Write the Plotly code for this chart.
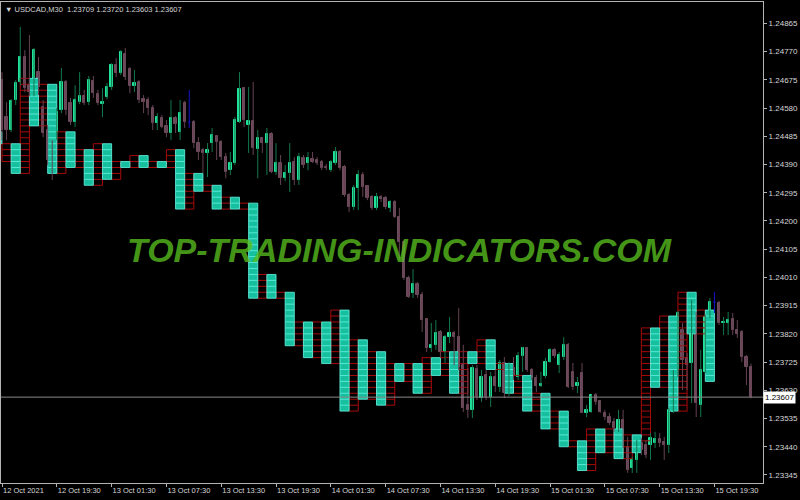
import plotly.graph_objects as go

# ---------------- data ----------------
symbol = "USDCAD,M30"

time_tick_bars = [0, 12, 24, 36, 48, 60, 72, 84, 96, 108, 120, 132, 144, 156]
time_tick_labels = ["12 Oct 2021", "12 Oct 19:30", "13 Oct 01:30", "13 Oct 07:30",
                    "13 Oct 13:30", "13 Oct 19:30", "14 Oct 01:30", "14 Oct 07:30",
                    "14 Oct 13:30", "14 Oct 19:30", "15 Oct 01:30", "15 Oct 07:30",
                    "15 Oct 13:30", "15 Oct 19:30"]

price_ticks = [1.24865, 1.24770, 1.24675, 1.24580, 1.24485, 1.24390, 1.24295, 1.24200,
               1.24105, 1.24010, 1.23915, 1.23820, 1.23725, 1.23630, 1.23535, 1.23440,
               1.23345]

opens = [1.24674, 1.24550, 1.24506, 1.24607, 1.24668, 1.24752, 1.24657, 1.24634, 1.24701, 1.24583,
         1.24506, 1.24405, 1.24499, 1.24573, 1.24668, 1.24597, 1.24533, 1.24600, 1.24620, 1.24600,
         1.24671, 1.24627, 1.24593, 1.24617, 1.24651, 1.24725, 1.24698, 1.24762, 1.24711, 1.24654,
         1.24668, 1.24610, 1.24607, 1.24580, 1.24530, 1.24546, 1.24519, 1.24496, 1.24546, 1.24499,
         1.24597, 1.24533, 1.24533, 1.24462, 1.24439, 1.24429, 1.24462, 1.24486, 1.24466, 1.24415,
         1.24371, 1.24395, 1.24533, 1.24647, 1.24523, 1.24536, 1.24442, 1.24479, 1.24462, 1.24493,
         1.24365, 1.24395, 1.24344, 1.24361, 1.24398, 1.24338, 1.24412, 1.24395, 1.24408, 1.24405,
         1.24398, 1.24381, 1.24371, 1.24395, 1.24432, 1.24381, 1.24287, 1.24247, 1.24311, 1.24355,
         1.24318, 1.24281, 1.24244, 1.24281, 1.24277, 1.24244, 1.24264, 1.24213, 1.24129, 1.24008,
         1.23957, 1.23988, 1.23951, 1.23870, 1.23772, 1.23783, 1.23826, 1.23759, 1.23809, 1.23823,
         1.23809, 1.23715, 1.23581, 1.23564, 1.23702, 1.23604, 1.23682, 1.23608, 1.23675, 1.23641,
         1.23722, 1.23621, 1.23705, 1.23675, 1.23746, 1.23772, 1.23698, 1.23671, 1.23645, 1.23678,
         1.23725, 1.23766, 1.23715, 1.23742, 1.23783, 1.23692, 1.23645, 1.23688, 1.23554, 1.23557,
         1.23614, 1.23594, 1.23554, 1.23540, 1.23523, 1.23496, 1.23530, 1.23439, 1.23369, 1.23396,
         1.23453, 1.23446, 1.23446, 1.23453, 1.23466, 1.23456, 1.23446, 1.23557, 1.23698, 1.23833,
         1.23739, 1.23722, 1.23890, 1.23581, 1.23692, 1.23877, 1.23927, 1.23924, 1.23857, 1.23857,
         1.23870, 1.23833, 1.23826, 1.23742, 1.23709]

highs = [1.24701, 1.24600, 1.24610, 1.24674, 1.24853, 1.24775, 1.24826, 1.24782, 1.24752, 1.24607,
         1.24523, 1.24472, 1.24580, 1.24715, 1.24674, 1.24614, 1.24657, 1.24701, 1.24641, 1.24688,
         1.24688, 1.24641, 1.24647, 1.24664, 1.24731, 1.24748, 1.24775, 1.24782, 1.24718, 1.24708,
         1.24674, 1.24624, 1.24617, 1.24590, 1.24563, 1.24556, 1.24540, 1.24607, 1.24553, 1.24607,
         1.24604, 1.24641, 1.24540, 1.24482, 1.24445, 1.24462, 1.24513, 1.24489, 1.24472, 1.24429,
         1.24432, 1.24550, 1.24701, 1.24651, 1.24651, 1.24668, 1.24506, 1.24482, 1.24513, 1.24499,
         1.24462, 1.24422, 1.24388, 1.24462, 1.24415, 1.24429, 1.24422, 1.24432, 1.24432, 1.24415,
         1.24405, 1.24392, 1.24405, 1.24449, 1.24439, 1.24388, 1.24294, 1.24321, 1.24371, 1.24365,
         1.24321, 1.24287, 1.24294, 1.24287, 1.24284, 1.24270, 1.24270, 1.24244, 1.24136, 1.24015,
         1.24038, 1.23994, 1.23961, 1.23873, 1.23857, 1.23867, 1.23833, 1.23816, 1.23877, 1.23830,
         1.23907, 1.23783, 1.23705, 1.23715, 1.23715, 1.23698, 1.23698, 1.23692, 1.23698, 1.23732,
         1.23742, 1.23725, 1.23742, 1.23759, 1.23776, 1.23776, 1.23705, 1.23682, 1.23692, 1.23739,
         1.23772, 1.23772, 1.23759, 1.23809, 1.23789, 1.23722, 1.23675, 1.23722, 1.23581, 1.23614,
         1.23621, 1.23597, 1.23564, 1.23554, 1.23537, 1.23564, 1.23564, 1.23473, 1.23406, 1.23463,
         1.23470, 1.23463, 1.23486, 1.23490, 1.23486, 1.23473, 1.23570, 1.23698, 1.23897, 1.23857,
         1.23756, 1.23934, 1.23894, 1.23766, 1.23883, 1.23941, 1.23961, 1.23931, 1.23877, 1.23894,
         1.23890, 1.23867, 1.23833, 1.23749, 1.23720]

lows = [1.24472, 1.24472, 1.24499, 1.24590, 1.24657, 1.24634, 1.24620, 1.24620, 1.24624, 1.24482,
        1.24388, 1.24338, 1.24472, 1.24563, 1.24556, 1.24523, 1.24516, 1.24593, 1.24590, 1.24590,
        1.24614, 1.24590, 1.24550, 1.24610, 1.24641, 1.24684, 1.24691, 1.24674, 1.24630, 1.24634,
        1.24597, 1.24563, 1.24556, 1.24506, 1.24506, 1.24513, 1.24482, 1.24472, 1.24496, 1.24472,
        1.24513, 1.24513, 1.24445, 1.24405, 1.24361, 1.24348, 1.24432, 1.24405, 1.24405, 1.24344,
        1.24355, 1.24388, 1.24530, 1.24516, 1.24429, 1.24422, 1.24344, 1.24429, 1.24355, 1.24361,
        1.24355, 1.24321, 1.24334, 1.24297, 1.24321, 1.24321, 1.24378, 1.24371, 1.24395, 1.24388,
        1.24371, 1.24371, 1.24365, 1.24388, 1.24371, 1.24281, 1.24230, 1.24237, 1.24237, 1.24281,
        1.24270, 1.24237, 1.24237, 1.24264, 1.24240, 1.24230, 1.24210, 1.24069, 1.24001, 1.23941,
        1.23941, 1.23941, 1.23826, 1.23759, 1.23759, 1.23766, 1.23739, 1.23722, 1.23789, 1.23715,
        1.23698, 1.23557, 1.23537, 1.23537, 1.23597, 1.23591, 1.23597, 1.23574, 1.23624, 1.23624,
        1.23604, 1.23611, 1.23665, 1.23665, 1.23692, 1.23692, 1.23665, 1.23624, 1.23641, 1.23671,
        1.23722, 1.23739, 1.23688, 1.23732, 1.23638, 1.23631, 1.23621, 1.23554, 1.23540, 1.23554,
        1.23581, 1.23554, 1.23530, 1.23513, 1.23490, 1.23490, 1.23436, 1.23352, 1.23352, 1.23352,
        1.23412, 1.23402, 1.23396, 1.23436, 1.23439, 1.23396, 1.23419, 1.23554, 1.23675, 1.23631,
        1.23631, 1.23587, 1.23540, 1.23540, 1.23688, 1.23873, 1.23890, 1.23850, 1.23816, 1.23816,
        1.23816, 1.23806, 1.23725, 1.23648, 1.23603]

closes = [1.24506, 1.24506, 1.24604, 1.24664, 1.24752, 1.24647, 1.24634, 1.24775, 1.24651, 1.24496,
          1.24405, 1.24392, 1.24567, 1.24668, 1.24573, 1.24533, 1.24607, 1.24620, 1.24597, 1.24674,
          1.24630, 1.24597, 1.24600, 1.24651, 1.24725, 1.24698, 1.24768, 1.24684, 1.24654, 1.24664,
          1.24607, 1.24600, 1.24580, 1.24530, 1.24550, 1.24516, 1.24496, 1.24546, 1.24526, 1.24563,
          1.24533, 1.24533, 1.24462, 1.24432, 1.24429, 1.24439, 1.24489, 1.24466, 1.24415, 1.24365,
          1.24395, 1.24540, 1.24644, 1.24540, 1.24536, 1.24445, 1.24479, 1.24462, 1.24493, 1.24365,
          1.24395, 1.24344, 1.24361, 1.24395, 1.24338, 1.24415, 1.24388, 1.24412, 1.24398, 1.24395,
          1.24378, 1.24378, 1.24398, 1.24432, 1.24378, 1.24287, 1.24247, 1.24311, 1.24355, 1.24314,
          1.24277, 1.24244, 1.24281, 1.24274, 1.24247, 1.24264, 1.24213, 1.24129, 1.24008, 1.23944,
          1.23988, 1.23951, 1.23867, 1.23772, 1.23783, 1.23823, 1.23759, 1.23809, 1.23823, 1.23809,
          1.23708, 1.23570, 1.23564, 1.23705, 1.23608, 1.23675, 1.23608, 1.23675, 1.23645, 1.23722,
          1.23621, 1.23715, 1.23678, 1.23746, 1.23772, 1.23698, 1.23671, 1.23645, 1.23651, 1.23725,
          1.23766, 1.23746, 1.23749, 1.23783, 1.23641, 1.23641, 1.23655, 1.23554, 1.23564, 1.23614,
          1.23591, 1.23557, 1.23540, 1.23520, 1.23503, 1.23530, 1.23446, 1.23362, 1.23396, 1.23453,
          1.23429, 1.23412, 1.23470, 1.23466, 1.23453, 1.23446, 1.23564, 1.23698, 1.23890, 1.23732,
          1.23715, 1.23890, 1.23587, 1.23698, 1.23877, 1.23927, 1.23927, 1.23857, 1.23860, 1.23867,
          1.23833, 1.23820, 1.23742, 1.23708, 1.23607]

# box columns: one red + one cyan column per 2-hour period (4 bars)
box_period = list(range(-1, 39))
red_hi = [None, 1.2446, 1.2468, 1.2466, 1.2450, 1.2444, 1.2446, 1.2440, 1.2442, 1.2440,
          1.2444, 1.2436, 1.2432, 1.2428, 1.2426, 1.2402, 1.2396, 1.2386, 1.2386, 1.2390,
          1.2380, 1.2376, 1.2372, 1.2372, 1.2374, 1.2376, 1.2376, 1.2380, 1.2372, 1.2368,
          1.2362, 1.2356, 1.2346, 1.2350, 1.2350, 1.2348, 1.2384, 1.2388, 1.2396, 1.2390]
red_lo = [None, 1.2440, 1.2436, 1.2452, 1.2436, 1.2438, 1.2432, 1.2434, 1.2438, 1.2438,
          1.2438, 1.2424, 1.2430, 1.2424, 1.2424, 1.2394, 1.2394, 1.2378, 1.2374, 1.2372,
          1.2356, 1.2360, 1.2358, 1.2366, 1.2362, 1.2368, 1.2362, 1.2372, 1.2370, 1.2362,
          1.2356, 1.2350, 1.2344, 1.2336, 1.2342, 1.2340, 1.2346, 1.2364, 1.2356, 1.2382]
cyan_hi = [1.2450, 1.2446, 1.2468, 1.2466, 1.2450, 1.2444, 1.2446, 1.2440, 1.2442, 1.2440,
           1.2444, 1.2436, 1.2432, 1.2428, 1.2426, 1.2402, 1.2396, 1.2386, 1.2386, 1.2390,
           1.2380, 1.2376, 1.2372, 1.2372, 1.2374, 1.2376, 1.2376, 1.2380, 1.2372, 1.2368,
           1.2362, 1.2356, 1.2346, 1.2350, 1.2350, 1.2348, 1.2384, 1.2388, 1.2396, 1.2390]
cyan_lo = [1.2446, 1.2436, 1.2452, 1.2436, 1.2438, 1.2432, 1.2434, 1.2438, 1.2438, 1.2438,
           1.2424, 1.2430, 1.2424, 1.2424, 1.2394, 1.2394, 1.2378, 1.2374, 1.2372, 1.2356,
           1.2360, 1.2358, 1.2366, 1.2362, 1.2368, 1.2362, 1.2372, 1.2370, 1.2362, 1.2356,
           1.2350, 1.2344, 1.2336, 1.2342, 1.2340, 1.2342, 1.2364, 1.2356, 1.2382, 1.2366]

BOX_SIZE = 0.0002
BARS_PER_PERIOD = 4

# ---------------- styles ----------------
BG = "#000000"
AXIS = "#b4b4b4"
TXT = "#d6d6d6"
BULL_BODY = "#22e39b"
BULL_WICK = "#12784e"
BEAR_BODY = "#6e4b5c"
BEAR_WICK = "#644352"
DOJI = "#1414c8"
CYAN_FILL = "#16c09e"
CYAN_LINE = "#62f0e0"
RED_LINE = "#a80a0a"
FONT = "Liberation Sans"

fig = go.Figure()


def column_grid(x0, x1, lo, hi):
    xs, ys = [], []
    n = int(round((hi - lo) / BOX_SIZE))
    for k in range(n + 1):
        yv = lo + k * BOX_SIZE
        xs += [x0, x1, None]
        ys += [yv, yv, None]
    xs += [x0, x0, None, x1, x1, None]
    ys += [lo, hi, None, lo, hi, None]
    return xs, ys


red_x, red_y = [], []
cf_x, cf_y = [], []
cl_x, cl_y = [], []
for p, rh, rl, ch, cl in zip(box_period, red_hi, red_lo, cyan_hi, cyan_lo):
    start = p * BARS_PER_PERIOD
    if rh is not None:
        gx, gy = column_grid(start, start + 2, rl, rh)
        red_x += gx
        red_y += gy
    if ch is not None:
        x0, x1 = start + 2, start + 4
        cf_x += [x0, x1, x1, x0, x0, None]
        cf_y += [cl, cl, ch, ch, cl, None]
        gx, gy = column_grid(x0, x1, cl, ch)
        cl_x += gx
        cl_y += gy

fig.add_trace(go.Scatter(x=red_x, y=red_y, mode="lines",
                         line=dict(color=RED_LINE, width=1), hoverinfo="skip"))
fig.add_trace(go.Scatter(x=cf_x, y=cf_y, mode="lines", fill="toself",
                         fillcolor=CYAN_FILL, line=dict(width=0), hoverinfo="skip"))
fig.add_trace(go.Scatter(x=cl_x, y=cl_y, mode="lines",
                         line=dict(color=CYAN_LINE, width=1), opacity=0.85,
                         hoverinfo="skip"))

# ---------------- candles ----------------
idx = list(range(len(opens)))
wick = {"bull": ([], []), "bear": ([], []), "doji": ([], [])}
body_x, body_base, body_h, body_col = [], [], [], []
doji_x, doji_y = [], []
for i, o, h, l, c in zip(idx, opens, highs, lows, closes):
    if abs(c - o) < 1e-9:
        kind = "doji"
        doji_x += [i - 0.3, i + 0.3, None]
        doji_y += [o, o, None]
    elif c > o:
        kind = "bull"
    else:
        kind = "bear"
    wx, wy = wick[kind]
    wx += [i, i, None]
    wy += [l, h, None]
    if kind != "doji":
        body_x.append(i)
        body_base.append(min(o, c))
        body_h.append(abs(c - o))
        body_col.append(BULL_BODY if kind == "bull" else BEAR_BODY)

for kind, col in (("bull", BULL_WICK), ("bear", BEAR_WICK), ("doji", DOJI)):
    wx, wy = wick[kind]
    fig.add_trace(go.Scatter(x=wx, y=wy, mode="lines",
                             line=dict(color=col, width=1), hoverinfo="skip"))
fig.add_trace(go.Scatter(x=doji_x, y=doji_y, mode="lines",
                         line=dict(color=DOJI, width=1), hoverinfo="skip"))
fig.add_trace(go.Bar(x=body_x, y=body_h, base=body_base, width=0.5,
                     marker=dict(color=body_col, line=dict(color=body_col, width=1)),
                     hoverinfo="skip"))

last = closes[-1]
fig.add_shape(type="line", xref="paper", x0=0, x1=1, yref="y", y0=last, y1=last,
              line=dict(color="#8a8a8a", width=1))

# ---------------- layout ----------------
fig.update_layout(
    width=800, height=500,
    margin=dict(l=1, r=37, t=2, b=17, pad=0),
    paper_bgcolor=BG, plot_bgcolor=BG,
    showlegend=False, bargap=0,
    xaxis=dict(range=[-0.22, 166.63], tickmode="array",
               tickvals=time_tick_bars, ticktext=time_tick_labels,
               ticks="outside", ticklen=3, tickcolor=AXIS,
               ticklabelposition="outside right",
               showline=True, linecolor=AXIS, linewidth=1, mirror=True,
               showgrid=False, zeroline=False, automargin=False,
               tickfont=dict(family=FONT, size=7.5, color=TXT)),
    yaxis=dict(range=[1.23318, 1.24937], side="right", tickmode="array",
               tickvals=price_ticks, ticktext=[f"{v:.5f}" for v in price_ticks],
               ticks="outside", ticklen=3, tickcolor=AXIS,
               showline=True, linecolor=AXIS, linewidth=1, mirror=True,
               showgrid=False, zeroline=False, automargin=False,
               tickfont=dict(family=FONT, size=8, color=TXT)),
)

header = f"\u25BC {symbol}  {opens[-1]:.5f} {highs[-1]:.5f} {lows[-1]:.5f} {closes[-1]:.5f}"
fig.add_annotation(xref="paper", yref="paper", x=0.0, y=1.0, xanchor="left", yanchor="top",
                   text=header, showarrow=False, xshift=2, yshift=-1,
                   font=dict(family=FONT, size=7.5, color=TXT))

fig.add_annotation(xref="paper", yref="y", x=1.0, y=last, xanchor="left", yanchor="middle",
                   text=f"{last:.5f}", showarrow=False, bgcolor="#ffffff", borderpad=1,
                   font=dict(family=FONT, size=8, color="#000000"))

fig.add_annotation(xref="paper", yref="paper", x=0.5236, y=0.4854,
                   xanchor="center", yanchor="middle",
                   text="TOP-TRADING-INDICATORS.COM", showarrow=False,
                   font=dict(family=FONT, size=34, color="rgba(88,190,30,0.8)",
                             weight="bold", style="italic"))

fig.write_html("out.html", config={"displayModeBar": False},
               post_script="document.body.style.margin='0px';document.body.style.padding='0px';")
